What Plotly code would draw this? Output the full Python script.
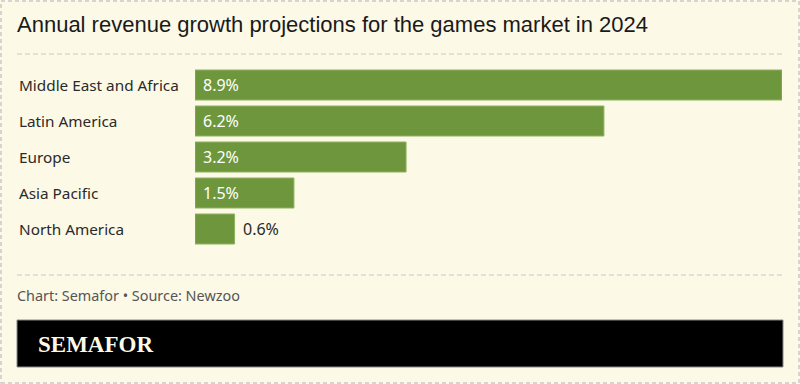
import plotly.graph_objects as go

regions = ["Middle East and Africa", "Latin America", "Europe", "Asia Pacific", "North America"]
growth = [8.9, 6.2, 3.2, 1.5, 0.6]
value_labels = ["8.9%", "6.2%", "3.2%", "1.5%", "0.6%"]

title_text = "Annual revenue growth projections for the games market in 2024"
footer_text = "Chart: Semafor • Source: Newzoo"
brand_text = "SEMAFOR"

W, H = 800, 384
BG = "#FCF9E6"
GREEN = "#6E973D"
LABEL_FONT = "Noto Sans"
DASH_COLOR = "#c8c8c8"

def px(x):
    return x / W

def py(y):
    return 1 - y / H

fig = go.Figure()
fig.add_trace(go.Bar(
    x=growth, y=regions, orientation="h",
    marker=dict(color=GREEN, line=dict(color="#8DB35E", width=1)),
    hoverinfo="skip",
))

annotations = []
for r in regions:
    annotations.append(dict(x=px(17), xref="paper", y=r, yref="y", text=r,
                            xanchor="left", yanchor="middle", showarrow=False,
                            font=dict(family=LABEL_FONT, size=15.3, color="#2a2a2a")))
for r, v, lab in zip(regions, growth, value_labels):
    if v > 1:
        annotations.append(dict(x=0, xref="x", y=r, yref="y", text=lab, xanchor="left",
                                yanchor="middle", xshift=6, showarrow=False,
                                font=dict(family=LABEL_FONT, size=16, color="white")))
    else:
        annotations.append(dict(x=v, xref="x", y=r, yref="y", text=lab, xanchor="left",
                                yanchor="middle", xshift=6, showarrow=False,
                                font=dict(family=LABEL_FONT, size=16, color="#2a2a2a")))

annotations.append(dict(x=px(15), xref="paper", y=py(24), yref="paper", text=title_text,
                        xanchor="left", yanchor="middle", showarrow=False,
                        font=dict(family="Liberation Sans", size=22, color="#1a1a1a")))
annotations.append(dict(x=px(15), xref="paper", y=py(295), yref="paper", text=footer_text,
                        xanchor="left", yanchor="middle", showarrow=False,
                        font=dict(family=LABEL_FONT, size=14.4, color="#555555")))
annotations.append(dict(x=px(36), xref="paper", y=py(344), yref="paper", text="<b>" + brand_text + "</b>",
                        xanchor="left", yanchor="middle", showarrow=False,
                        font=dict(family="Liberation Serif", size=23, color=BG)))

shapes = [
    dict(type="rect", xref="paper", yref="paper", x0=px(1), x1=px(799), y0=py(383), y1=py(1),
         line=dict(color=DASH_COLOR, width=1.5, dash="4px,3px"), layer="below"),
    dict(type="line", xref="paper", yref="paper", x0=px(17), x1=px(783), y0=py(54), y1=py(54),
         line=dict(color=DASH_COLOR, width=1, dash="5px,3px")),
    dict(type="line", xref="paper", yref="paper", x0=px(17), x1=px(783), y0=py(275), y1=py(275),
         line=dict(color=DASH_COLOR, width=1, dash="5px,3px")),
    dict(type="rect", xref="paper", yref="paper", x0=px(17), x1=px(783), y0=py(367), y1=py(320),
         fillcolor="black", line=dict(color="#888888", width=1)),
]

fig.update_layout(
    width=W, height=H,
    margin=dict(l=0, r=0, t=0, b=0),
    paper_bgcolor=BG, plot_bgcolor=BG,
    showlegend=False,
    bargap=6 / 36,
    xaxis=dict(domain=[px(195), px(782)], range=[0, 8.9], visible=False, fixedrange=True),
    yaxis=dict(domain=[py(247), py(67)], range=[4.5, -0.5], type="category",
               categoryorder="array", categoryarray=regions, visible=False, fixedrange=True),
    annotations=annotations,
    shapes=shapes,
)

fig.write_html("out.html", config={"displayModeBar": False},
               post_script="document.body.style.margin='0px';")
